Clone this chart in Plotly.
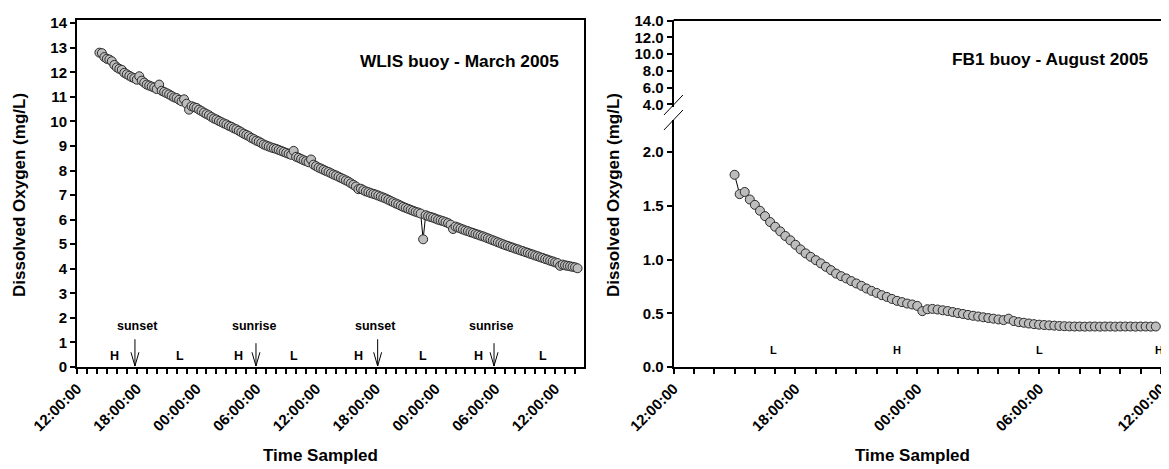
import pandas as pd
import plotly.graph_objects as go

# ---------------- data ----------------
wlis_start = "2005-03-01 14:15"   # 15-minute sampling
wlis_do = [
    12.80, 12.78, 12.62,
    12.55, 12.52, 12.45, 12.30,
    12.20, 12.14, 12.10, 11.98,
    11.92, 11.86, 11.80, 11.76,
    11.70, 11.84, 11.66, 11.58,
    11.50, 11.46, 11.42, 11.38,
    11.32, 11.50, 11.25, 11.20,
    11.15, 11.10, 11.04, 10.98,
    10.95, 10.88, 10.82, 10.90,
    10.72, 10.48, 10.62, 10.58,
    10.55, 10.48, 10.42, 10.36,
    10.30, 10.25, 10.18, 10.12,
    10.08, 10.02, 9.97, 9.92,
    9.88, 9.82, 9.78, 9.72,
    9.68, 9.62, 9.56, 9.50,
    9.45, 9.40, 9.33, 9.28,
    9.22, 9.18, 9.12, 9.06,
    9.02, 8.98, 8.94, 8.91,
    8.88, 8.84, 8.80, 8.76,
    8.72, 8.68, 8.64, 8.80,
    8.56, 8.52, 8.47, 8.42,
    8.38, 8.34, 8.45, 8.24,
    8.18, 8.12, 8.08, 8.03,
    7.98, 7.94, 7.89, 7.84,
    7.80, 7.75, 7.70, 7.65,
    7.60, 7.55, 7.48, 7.42,
    7.35, 7.24, 7.26, 7.20,
    7.15, 7.12, 7.08, 7.05,
    7.02, 6.98, 6.94, 6.90,
    6.86, 6.81, 6.76, 6.71,
    6.66, 6.62, 6.57, 6.52,
    6.48, 6.44, 6.40, 6.36,
    6.32, 6.29, 6.25, 5.20,
    6.18, 6.14, 6.11, 6.08,
    6.04, 6.00, 5.97, 5.94,
    5.90, 5.86, 5.80, 5.62,
    5.72, 5.68, 5.64, 5.60,
    5.56, 5.53, 5.49, 5.46,
    5.42, 5.39, 5.35, 5.32,
    5.28, 5.24, 5.20, 5.16,
    5.12, 5.08, 5.04, 5.00,
    4.96, 4.93, 4.89, 4.86,
    4.82, 4.79, 4.75, 4.72,
    4.68, 4.65, 4.61, 4.58,
    4.54, 4.51, 4.47, 4.44,
    4.40, 4.37, 4.33, 4.30,
    4.26, 4.23, 4.12, 4.17,
    4.14, 4.12, 4.10, 4.08,
    4.06, 4.02,
]

fb1_start = "2005-08-01 15:00"    # 15-minute sampling
fb1_do = [
    1.79, 1.61, 1.63, 1.56,
    1.51, 1.455, 1.405, 1.35,
    1.306, 1.263, 1.22, 1.18,
    1.138, 1.095, 1.058, 1.026,
    0.995, 0.965, 0.933, 0.902,
    0.870, 0.846, 0.825, 0.800,
    0.778, 0.756, 0.731, 0.709,
    0.690, 0.669, 0.653, 0.634,
    0.616, 0.604, 0.591, 0.582,
    0.569, 0.520, 0.538, 0.541,
    0.535, 0.528, 0.521, 0.512,
    0.502, 0.494, 0.485, 0.477,
    0.470, 0.463, 0.456, 0.450,
    0.443, 0.437, 0.450, 0.428,
    0.418, 0.412, 0.405, 0.399,
    0.394, 0.391, 0.388, 0.385,
    0.382, 0.380, 0.378, 0.377,
    0.377, 0.376, 0.377, 0.377,
    0.376, 0.377, 0.377, 0.376,
    0.377, 0.377, 0.377, 0.376,
    0.377, 0.377, 0.376, 0.377,
]

wlis_sun_labels = ["sunset", "sunrise", "sunset", "sunrise"]
wlis_sun_label_times = ["2005-03-01 18:07", "2005-03-02 05:52", "2005-03-02 17:55", "2005-03-03 05:34"]
wlis_sun_arrow_times = ["2005-03-01 17:49", "2005-03-02 05:58", "2005-03-02 18:11", "2005-03-03 05:52"]
wlis_sun_arrow_tops = [1.13, 0.97, 1.13, 0.97]

wlis_tide_labels = ["H", "L", "H", "L", "H", "L", "H", "L"]
wlis_tide_times = ["2005-03-01 15:43", "2005-03-01 22:20", "2005-03-02 04:10", "2005-03-02 09:47",
                   "2005-03-02 16:13", "2005-03-02 22:44", "2005-03-03 04:16", "2005-03-03 10:47"]

fb1_tide_labels = ["L", "H", "L", "H"]
fb1_tide_times = ["2005-08-01 16:56", "2005-08-01 23:00", "2005-08-02 06:00", "2005-08-02 11:53"]

# ---------------- figure ----------------
FONT = "Liberation Sans, Arial, sans-serif"
HOUR = 3600 * 1000

wlis_x = pd.date_range(wlis_start, periods=len(wlis_do), freq="15min")
fb1_x = pd.date_range(fb1_start, periods=len(fb1_do), freq="15min")

marker = dict(size=9, color="#bdbdbd", line=dict(color="#2a2a2a", width=1))
line = dict(color="black", width=1)

fig = go.Figure()
fig.add_trace(go.Scatter(x=wlis_x, y=wlis_do, mode="lines+markers", line=line,
                         marker=marker, xaxis="x", yaxis="y", showlegend=False))
fig.add_trace(go.Scatter(x=fb1_x, y=fb1_do, mode="lines+markers", line=line,
                         marker=marker, xaxis="x2", yaxis="y2", showlegend=False))
fig.add_trace(go.Scatter(x=[], y=[], xaxis="x2", yaxis="y3", showlegend=False))

tickfont = dict(family=FONT, size=15, color="black", weight="bold")
xcommon = dict(type="date", tickformat="%H:%M:%S", dtick=6 * HOUR, tickangle=-45,
               ticks="outside", ticklen=5, tickwidth=1.5, tickcolor="black",
               showline=True, linecolor="black", linewidth=2, showgrid=False,
               zeroline=False, tickfont=tickfont,
               minor=dict(dtick=HOUR, ticks="outside", ticklen=5, tickwidth=1.5,
                          tickcolor="black", showgrid=False))
ycommon = dict(ticks="outside", ticklen=5, tickwidth=1.5, tickcolor="black",
               showline=True, linecolor="black", linewidth=2, showgrid=False,
               zeroline=False, tickfont=tickfont)

# the page body has an 8px margin, so the figure is 8px smaller on each side
fig.update_layout(
    width=1161, height=461,
    margin=dict(l=69, r=0, t=12, b=102),
    paper_bgcolor="white", plot_bgcolor="white",
    font=dict(family=FONT, color="black", weight="bold"),
    xaxis=dict(xcommon, domain=[0, 0.4643], anchor="y", mirror=True,
               tick0="2005-03-01 00:00:00",
               range=["2005-03-01 12:00", "2005-03-03 14:54"]),
    yaxis=dict(ycommon, domain=[0, 1], anchor="x", mirror=True,
               range=[0, 14.13], dtick=1, tick0=0),
    xaxis2=dict(xcommon, domain=[0.5464, 1], anchor="y2",
                tick0="2005-08-01 00:00:00",
                range=["2005-08-01 12:00", "2005-08-02 12:24"]),
    yaxis2=dict(ycommon, domain=[0, 0.7118], anchor="x2",
                range=[0, 2.3], dtick=0.5, tick0=0, tickformat=".1f"),
    yaxis3=dict(ycommon, domain=[0.7493, 1], anchor="x2",
                range=[3.68, 14.08], dtick=2, tick0=4, tickformat=".1f"),
)

ann = []
title_font = dict(family=FONT, size=17, color="black", weight="bold")
ann.append(dict(text="Dissolved Oxygen (mg/L)", xref="paper", yref="paper", x=-0.0522, y=0.4957,
                textangle=-90, showarrow=False, font=title_font, xanchor="center", yanchor="middle"))
ann.append(dict(text="Dissolved Oxygen (mg/L)", xref="paper", yref="paper", x=0.4918, y=0.4957,
                textangle=-90, showarrow=False, font=title_font, xanchor="center", yanchor="middle"))
ann.append(dict(text="Time Sampled", xref="paper", yref="paper", x=0.2234, y=-0.288,
                showarrow=False, font=title_font, xanchor="center", yanchor="bottom"))
ann.append(dict(text="Time Sampled", xref="paper", yref="paper", x=0.7647, y=-0.288,
                showarrow=False, font=title_font, xanchor="center", yanchor="bottom"))
panel_font = dict(family=FONT, size=17.3, color="black", weight="bold")
ann.append(dict(text="WLIS buoy - March 2005", xref="paper", yref="paper", x=0.4432, y=0.882,
                showarrow=False, font=panel_font, xanchor="right", yanchor="middle"))
ann.append(dict(text="FB1 buoy - August 2005", xref="paper", yref="paper", x=0.9835, y=0.888,
                showarrow=False, font=panel_font, xanchor="right", yanchor="middle"))

small = dict(family=FONT, size=12.5, color="black", weight="bold")
for lab, t in zip(wlis_sun_labels, wlis_sun_label_times):
    ann.append(dict(text=lab, x=t, y=1.67, xref="x", yref="y", showarrow=False,
                    font=small, xanchor="center", yanchor="middle"))
for lab, t in zip(wlis_tide_labels, wlis_tide_times):
    ann.append(dict(text=lab, x=t, y=0.45, xref="x", yref="y", showarrow=False,
                    font=small, xanchor="center", yanchor="middle"))
tiny = dict(family=FONT, size=11, color="black", weight="bold")
for lab, t in zip(fb1_tide_labels, fb1_tide_times):
    ann.append(dict(text=lab, x=t, y=0.158, xref="x2", yref="y2", showarrow=False,
                    font=tiny, xanchor="center", yanchor="middle"))
fig.update_layout(annotations=ann)

shapes = []
half = pd.Timedelta(minutes=24)
for t, top in zip(wlis_sun_arrow_times, wlis_sun_arrow_tops):
    t = pd.Timestamp(t)
    tip = 0.04
    for x0, y0 in [(t, top), (t - half, 0.6), (t + half, 0.6)]:
        shapes.append(dict(type="line", xref="x", yref="y", x0=x0, y0=y0, x1=t, y1=tip,
                           line=dict(color="black", width=1)))
# axis break marks
for y0, y1 in [(0.7262, 0.7839), (0.6830, 0.7406)]:
    shapes.append(dict(type="line", xref="paper", yref="paper", x0=0.5375, y0=y0, x1=0.5549, y1=y1,
                       line=dict(color="black", width=1)))
# top frame of right panel
shapes.append(dict(type="line", xref="paper", yref="paper", x0=0.5464, y0=1, x1=1, y1=1,
                   line=dict(color="black", width=2)))
fig.update_layout(shapes=shapes)

fig.write_html("out.html")
